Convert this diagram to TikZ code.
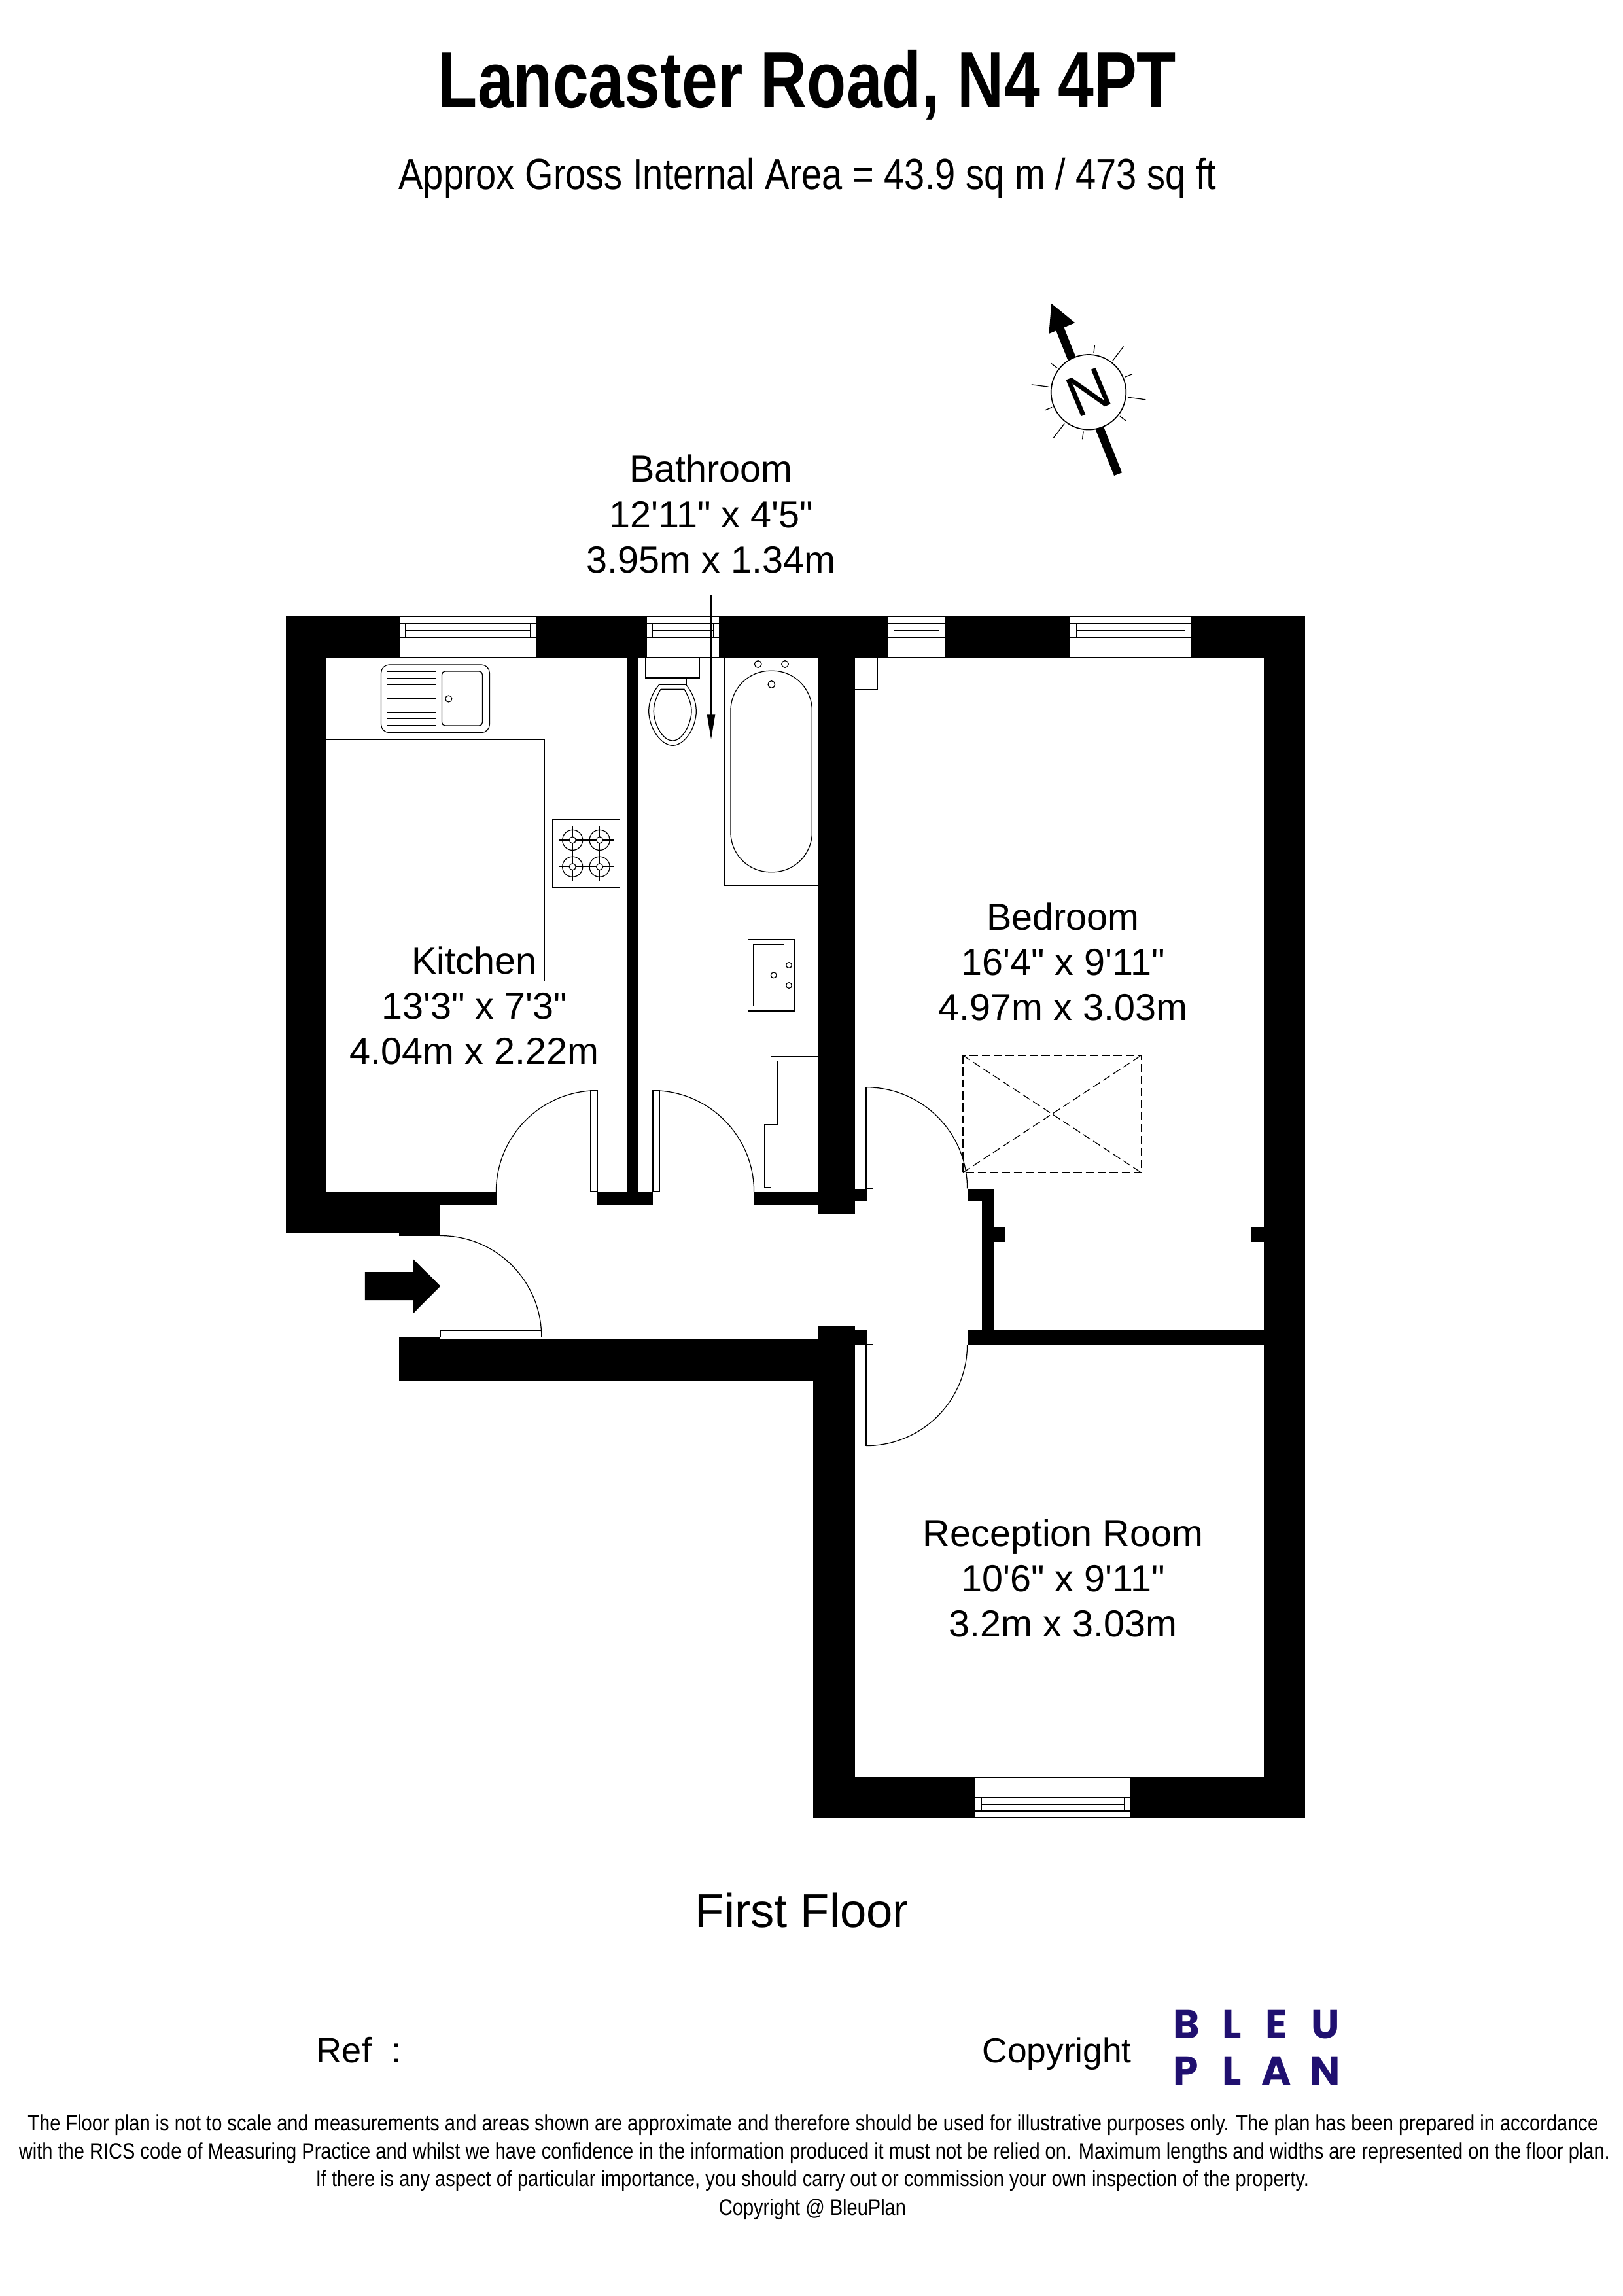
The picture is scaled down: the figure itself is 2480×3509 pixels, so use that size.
\documentclass[tikz,border=0pt]{standalone}
\usepackage{fontspec}
\usepackage{tikz}
\usetikzlibrary{arrows.meta}
\newfontfamily\roomfont{Liberation Sans}
\newfontfamily\titlefont[FakeStretch=0.81]{Liberation Sans}
\newfontfamily\subfont[FakeStretch=0.84]{Liberation Sans}
\newfontfamily\footfont[FakeStretch=0.85]{Liberation Sans}
\newfontfamily\logofont{Poppins}
\definecolor{bleu}{RGB}{32,16,112}
\newcommand{\dradius}{37.1pt}

\begin{document}
\begin{tikzpicture}[x=0.24pt,y=-0.24pt,
    wall/.style={fill=black,draw=none},
    thin line/.style={draw=black,line width=0.3pt},
    leaf/.style={thin line,fill=white},
    roomlabel/.style={font=\roomfont\fontsize{13.8}{16.6}\selectfont,align=center,inner sep=0pt},
    logo/.style={font=\logofont\bfseries\fontsize{14.8}{15}\selectfont,text=bleu,inner sep=0pt,anchor=base},
    footline/.style={font=\footfont\fontsize{8.2}{10}\selectfont,inner sep=0pt,anchor=base}]
    \useasboundingbox (0,0) rectangle (2480,3509);
    \node[font=\titlefont\bfseries\fontsize{29.2}{32}\selectfont,inner sep=0pt,anchor=base] (title) at (1234,165) {Lancaster Road, N4 4PT};
    \node[font=\subfont\fontsize{16}{19}\selectfont,inner sep=0pt,anchor=base] (subtitle) at (1234.4,290) {Approx Gross Internal Area = 43.9 sq m / 473 sq ft};

    \foreach \xa/\ya/\xb/\yb in {436.6/942/1995/1005.3, 436.6/942/499.2/1884, 436.6/1821/758.7/1840.8,
        436.6/1840.8/673.2/1884, 610/1884/673.2/1888.7, 957.9/1005/976.3/1821, 912.5/1821/998/1840.8,
        1152.5/1821/1251.3/1840.6, 1251.3/1005/1307.2/1854.5, 1251.3/1816.5/1325/1836,
        1478.8/1816.5/1519/1836.2, 1500.7/1816.5/1519/2032, 1500.7/1875/1535.8/1898.2, 1911.8/1875/1931.7/1898.2,
        1478.8/2032/1931.7/2055, 1931.7/942/1995/2778.6, 1242.9/2109/1307.2/2778.6, 1251.3/2027.4/1307.2/2110,
        1307/2032/1325/2055, 610/2042.5/673.2/2109.5, 673/2046.4/1251.3/2109.5, 1242.9/2716/1995/2778.6}
        \fill[wall] (\xa,\ya) rectangle (\xb,\yb);

    \foreach \xa/\xb in {610.6/820.1,988/1100,1357/1445.3,1635.7/1820.8} {
        \draw[leaf] (\xa,942) rectangle (\xb,1005);
        \draw[thin line] (\xa,953) rectangle (\xb,974);
        \draw[thin line] ({\xa+9.5},953) -- ({\xa+9.5},974) ({\xb-9.5},953) -- ({\xb-9.5},974);
        \draw[thin line] ({\xa+9.5},963.5) -- ({\xb-9.5},963.5);
    }
    \draw[leaf] (1490.3,2717) rectangle (1728.8,2778);
    \draw[thin line] (1490.3,2747) rectangle (1728.8,2768);
    \draw[thin line] (1500,2747) -- (1500,2768) (1719,2747) -- (1719,2768);
    \draw[thin line] (1500,2757.5) -- (1719,2757.5);

    \foreach \xa/\ya/\xb/\yb in {902.8/1666.7/913/1821, 998/1666.7/1008.4/1821, 673.2/2033/827.6/2043.7,
        1324/1661.7/1334.3/1816.5, 1324/2055/1334.3/2209.4}
        \draw[leaf] (\xa,\ya) rectangle (\xb,\yb);
    \draw[thin line] (913,1666.7) arc[start angle=90,end angle=180,radius=\dradius];
    \draw[thin line] (998,1666.7) arc[start angle=90,end angle=0,radius=\dradius];
    \draw[thin line] (673.2,1888.5) arc[start angle=90,end angle=0,radius=\dradius];
    \draw[thin line] (1324,1661.7) arc[start angle=90,end angle=0,radius=\dradius];
    \draw[thin line] (1478.6,2055) arc[start angle=0,end angle=-90,radius=\dradius];
    \fill (557.8,1944) -- (631.3,1944) -- (631.3,1923.9) -- (673.2,1965.6) -- (631.3,2007.7) -- (631.3,1987) -- (557.8,1987) -- cycle;

    \draw[thin line] (499.2,1130.8) -- (832.7,1130.8) -- (832.7,1499.5) -- (957.9,1499.5);
    \draw[thin line,rounded corners=3pt] (582.5,1016) rectangle (748.4,1119.6);
    \draw[thin line,rounded corners=1.2pt] (675.5,1026) rectangle (737.5,1109);
    \foreach \n in {0,...,8} \draw[thin line] (592,{1026.2+\n*10.33}) -- (665.7,{1026.2+\n*10.33});
    \draw[thin line] (685.8,1068) circle[radius=5];
    \draw[thin line] (844.2,1252.8) rectangle (947.6,1356.3);
    \foreach \x/\y in {875.2/1283.9,916.6/1283.9,875.2/1324.7,916.6/1324.7} {
        \draw[thin line] (\x,\y) circle[radius=15.5] (\x,\y) circle[radius=5];
        \draw[thin line] ({\x-21},\y) -- ({\x-5},\y) ({\x+5},\y) -- ({\x+21},\y);
        \draw[thin line] (\x,{\y-21}) -- (\x,{\y-5}) (\x,{\y+5}) -- (\x,{\y+21});
    }

    \draw[thin line] (986.3,1005.5) rectangle (1069.7,1036);
    \draw[thin line] (1007.3,1036) rectangle (1049,1046.7);
    \draw[thin line] (1007.3,1046.7) .. controls (998,1058) and (991.7,1072) .. (991.7,1086.7)
        .. controls (991.7,1112) and (1010,1139.3) .. (1028.3,1139.3)
        .. controls (1046.6,1139.3) and (1064.3,1112) .. (1064.3,1086.7)
        .. controls (1064.3,1072) and (1058,1058) .. (1049,1046.7);
    \draw[thin line] (1010,1053.3) -- (1046,1053.3) .. controls (1052,1064) and (1057,1075) .. (1057,1086.7)
        .. controls (1057,1105) and (1044,1132) .. (1028.3,1132)
        .. controls (1012,1132) and (999.3,1105) .. (999.3,1086.7)
        .. controls (999.3,1075) and (1004,1064) .. (1010,1053.3);
    \draw[thin line] (1107,1005.5) -- (1107,1353.3) -- (1251.3,1353.3);
    \draw[thin line,rounded corners=14.5pt] (1117,1025.3) rectangle (1241.3,1332.7);
    \foreach \x/\y in {1158.7/1015,1200/1015,1179.3/1046} \draw[thin line] (\x,\y) circle[radius=5.3];
    \draw[thin line] (1178.7,1353.3) -- (1178.7,1821) (1178.7,1615) -- (1251.3,1615);
    \draw[leaf] (1143.7,1435.7) rectangle (1214,1545);
    \draw[thin line] (1151.3,1443.3) rectangle (1198.3,1537.3);
    \foreach \x/\y in {1206/1475,1206/1506,1182.7/1490.3} \draw[thin line] (\x,\y) circle[radius=4.3];
    \draw[thin line] (1178.7,1621.7) rectangle (1189,1718.3);
    \draw[thin line] (1168.3,1718.3) rectangle (1178.7,1815);

    \draw[thin line] (1307.2,1053.7) -- (1341.7,1053.7) -- (1341.7,1005.5);

    \draw[thin line,dash pattern=on 3pt off 1.4pt] (1472,1613) rectangle (1744.4,1792);
    \draw[thin line,dash pattern=on 3pt off 1.4pt] (1472,1613) -- (1744.4,1792) (1472,1792) -- (1744.4,1613);

    \node[thin line,roomlabel,minimum width=101.9pt,minimum height=59.6pt] (bathlabel) at (1087,785.6) {Bathroom\\12'11" x 4'5"\\3.95m x 1.34m};
    \coordinate (bathtip) at (1087,1129.8);
    \draw[thin line,-{Triangle[length=9.2pt,width=3pt]}] (bathlabel.south) -- (bathtip);
    \node[roomlabel] (kitchen) at (725,1537) {Kitchen\\13'3" x 7'3"\\4.04m x 2.22m};
    \node[roomlabel] (bedroom) at (1625,1470) {Bedroom\\16'4" x 9'11"\\4.97m x 3.03m};
    \node[roomlabel] (reception) at (1625,2412) {Reception Room\\10'6" x 9'11"\\3.2m x 3.03m};
    \node[font=\roomfont\fontsize{17.4}{20}\selectfont,inner sep=0pt] (floor) at (1226,2920) {First Floor};

    \coordinate (compass) at (1664,599.3);
    \fill (1715,722.3) -- (1703,727) -- (1611,497) -- (1623,492) -- cycle;
    \fill (1607.3,464) -- (1643.3,493.3) -- (1603.3,510) -- cycle;
    \draw[thin line,fill=white,line width=0.4pt] (compass) circle[radius=57.3];
    \foreach \a in {-82.5,-22.5,37.5,97.5,157.5,217.5} \draw[thin line,shift={(compass)}] (\a:60.5) -- (\a:72.6);
    \foreach \a in {-52.5,7.5,127.5,187.5} \draw[thin line,shift={(compass)}] (\a:60.5) -- (\a:88);
    \node[font=\roomfont\fontsize{21}{24}\selectfont,rotate=22.6,inner sep=0pt] (north) at (compass) {N};

    \node[font=\roomfont\fontsize{13}{15}\selectfont,anchor=base west,inner sep=0pt] (reflabel) at (483,3152) {Ref\ \ :};
    \node[font=\roomfont\fontsize{12.8}{15}\selectfont,anchor=base west,inner sep=0pt] (copyright) at (1500.7,3152) {Copyright};
    \foreach \x/\l in {1813.6/B,1883.5/L,1951/E,2026/U} \node[logo] (logo1\l) at (\x,3115) {\l};
    \foreach \x/\l in {1812.3/P,1883/L,1951.3/A,2026/N} \node[logo] (logo2\l) at (\x,3186) {\l};

    \node[footline] (foot1) at (1243,3256.7) {The Floor plan is not to scale and measurements and areas shown are approximate and therefore should be used for illustrative purposes only. The plan has been prepared in accordance};
    \node[footline] (foot2) at (1245,3299) {with the RICS code of Measuring Practice and whilst we have confidence in the information produced it must not be relied on. Maximum lengths and widths are represented on the floor plan.};
    \node[footline] (foot3) at (1242,3341.7) {If there is any aspect of particular importance, you should carry out or commission your own inspection of the property.};
    \node[footline] (foot4) at (1242,3385) {Copyright @ BleuPlan};
\end{tikzpicture}
\end{document}
